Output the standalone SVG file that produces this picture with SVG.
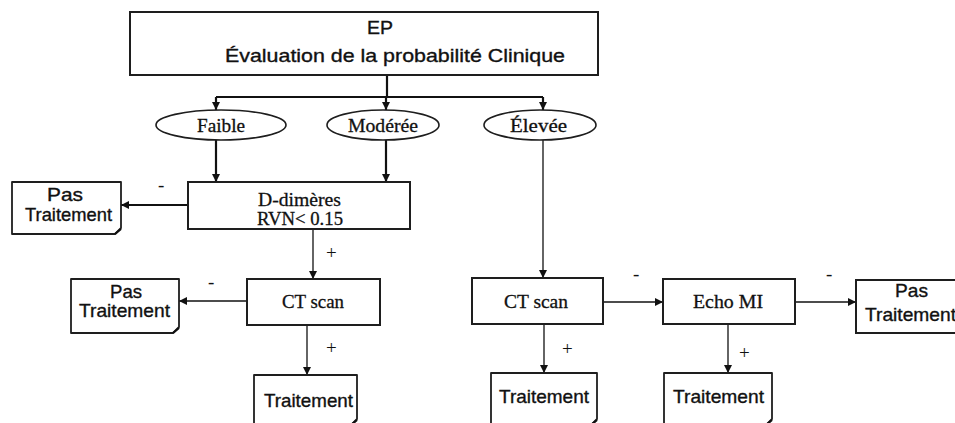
<svg xmlns="http://www.w3.org/2000/svg" width="955" height="423" viewBox="0 0 955 423">
  <style>
    .box { fill: #ffffff; stroke: #1e1e1e; stroke-width: 2; }
    .note { fill: #ffffff; stroke: #1e1e1e; stroke-width: 1.8; stroke-linejoin: round; }
    .oval { fill: #ffffff; stroke: #1e1e1e; stroke-width: 1.6; }
    .sans { font-family: "Liberation Sans", Arial, sans-serif; font-size: 18.5px; fill: #111; stroke: #111; stroke-width: 0.35; }
    .serif { font-family: "Liberation Serif", "Times New Roman", serif; font-size: 19px; fill: #111; stroke: #111; stroke-width: 0.3; }
    .sign { font-family: "Liberation Serif", "Times New Roman", serif; font-size: 19px; fill: #111; }
    .thick { fill: none; stroke: #111; stroke-width: 2.2; }
    .thin { fill: none; stroke: #111; stroke-width: 1.3; }
  </style>
  <defs>
    <marker id="arrow" viewBox="0 0 10 10" refX="10" refY="5" markerWidth="8" markerHeight="8" markerUnits="userSpaceOnUse" orient="auto">
      <path d="M0,0 L10,5 L0,10 Z" fill="#111"/>
    </marker>
  </defs>

  <rect width="955" height="423" fill="#ffffff"/>

  <!-- connectors -->
  <g id="connectors">
    <path class="thick" d="M387,75 V97"/>
    <path class="thick" d="M216,97 H543"/>
    <path class="thick" d="M216,97 V110" marker-end="url(#arrow)"/>
    <path class="thick" d="M386,97 V110" marker-end="url(#arrow)"/>
    <path class="thick" d="M543,97 V110" marker-end="url(#arrow)"/>
    <path class="thick" d="M216,140 V182" marker-end="url(#arrow)"/>
    <path class="thick" d="M386,140 V182" marker-end="url(#arrow)"/>
    <path class="thin" d="M543,140 V278" marker-end="url(#arrow)"/>
    <path class="thick" d="M188,205 H121" marker-end="url(#arrow)"/>
    <path class="thin" d="M313,229 V279" marker-end="url(#arrow)"/>
    <path class="thin" d="M247,301 H179" marker-end="url(#arrow)"/>
    <path class="thin" d="M307,325 V375" marker-end="url(#arrow)"/>
    <path class="thin" d="M603,302 H663" marker-end="url(#arrow)"/>
    <path class="thin" d="M795,302 H856" marker-end="url(#arrow)"/>
    <path class="thin" d="M544,324 V373" marker-end="url(#arrow)"/>
    <path class="thin" d="M728,324 V373" marker-end="url(#arrow)"/>
    <!-- branch labels -->
    <text class="sign" x="158" y="191">-</text>
    <text class="sign" x="326" y="259">+</text>
    <text class="sign" x="208" y="288">-</text>
    <text class="sign" x="326" y="354">+</text>
    <text class="sign" x="633" y="280">-</text>
    <text class="sign" x="826" y="280">-</text>
    <text class="sign" x="562" y="355">+</text>
    <text class="sign" x="739" y="359">+</text>
  </g>

  <!-- nodes -->
  <g id="ep">
    <rect class="box" x="130" y="12" width="468" height="63"/>
    <text class="sans" x="367" y="34" textLength="26" lengthAdjust="spacingAndGlyphs">EP</text>
    <text class="sans" x="225" y="62" textLength="340" lengthAdjust="spacingAndGlyphs">Évaluation de la probabilité Clinique</text>
  </g>

  <g id="faible">
    <ellipse class="oval" cx="221" cy="125" rx="65" ry="15"/>
    <text class="serif" x="197" y="132" textLength="48" lengthAdjust="spacingAndGlyphs">Faible</text>
  </g>
  <g id="moderee">
    <ellipse class="oval" cx="383" cy="125" rx="56" ry="15"/>
    <text class="serif" x="348" y="132" textLength="70" lengthAdjust="spacingAndGlyphs">Modérée</text>
  </g>
  <g id="elevee">
    <ellipse class="oval" cx="540" cy="125" rx="56" ry="15"/>
    <text class="serif" x="510" y="132" textLength="57" lengthAdjust="spacingAndGlyphs">Élevée</text>
  </g>

  <g id="ddimeres">
    <rect class="box" x="188" y="182" width="222" height="47"/>
    <text class="serif" x="258" y="206" textLength="83" lengthAdjust="spacingAndGlyphs">D-dimères</text>
    <text class="serif" x="257" y="225" textLength="86" lengthAdjust="spacingAndGlyphs">RVN&lt; 0.15</text>
  </g>

  <g id="pas-traitement-1">
    <path class="note" d="M12,182 H121 V228 L115,234 H12 Z"/>
    <path class="thick" d="M121,229 L115,234"/>
    <text class="sans" x="47" y="201" textLength="36" lengthAdjust="spacingAndGlyphs">Pas</text>
    <text class="sans" x="25" y="221" textLength="87" lengthAdjust="spacingAndGlyphs">Traitement</text>
  </g>

  <g id="ct-scan-1">
    <rect class="box" x="247" y="279" width="133" height="46"/>
    <text class="serif" x="282" y="308" textLength="62" lengthAdjust="spacingAndGlyphs">CT scan</text>
  </g>

  <g id="pas-traitement-2">
    <path class="note" d="M71,279 H179 V327 L173,333 H71 Z"/>
    <path class="thick" d="M179,328 L173,333"/>
    <text class="sans" x="110" y="298" textLength="32" lengthAdjust="spacingAndGlyphs">Pas</text>
    <text class="sans" x="79" y="317" textLength="91" lengthAdjust="spacingAndGlyphs">Traitement</text>
  </g>

  <g id="traitement-1">
    <path class="note" d="M254,375 H357 V419 L351,425 H254 Z"/>
    <path class="thick" d="M357,420 L351,425"/>
    <text class="sans" x="264" y="407" textLength="89" lengthAdjust="spacingAndGlyphs">Traitement</text>
  </g>

  <g id="ct-scan-2">
    <rect class="box" x="472" y="278" width="131" height="46"/>
    <text class="serif" x="504" y="308" textLength="64" lengthAdjust="spacingAndGlyphs">CT scan</text>
  </g>

  <g id="echo-mi">
    <rect class="box" x="663" y="279" width="132" height="45"/>
    <text class="serif" x="693" y="308" textLength="70" lengthAdjust="spacingAndGlyphs">Echo MI</text>
  </g>

  <g id="pas-traitement-3">
    <rect class="box" x="856" y="280" width="110" height="53"/>
    <text class="sans" x="895" y="297" textLength="33" lengthAdjust="spacingAndGlyphs">Pas</text>
    <text class="sans" x="865" y="321" textLength="91" lengthAdjust="spacingAndGlyphs">Traitement</text>
  </g>

  <g id="traitement-2">
    <path class="note" d="M491,373 H597 V419 L591,425 H491 Z"/>
    <path class="thick" d="M597,420 L591,425"/>
    <text class="sans" x="499" y="403" textLength="90" lengthAdjust="spacingAndGlyphs">Traitement</text>
  </g>

  <g id="traitement-3">
    <path class="note" d="M664,373 H772 V419 L766,425 H664 Z"/>
    <path class="thick" d="M772,420 L766,425"/>
    <text class="sans" x="673" y="403" textLength="91" lengthAdjust="spacingAndGlyphs">Traitement</text>
  </g>
</svg>
